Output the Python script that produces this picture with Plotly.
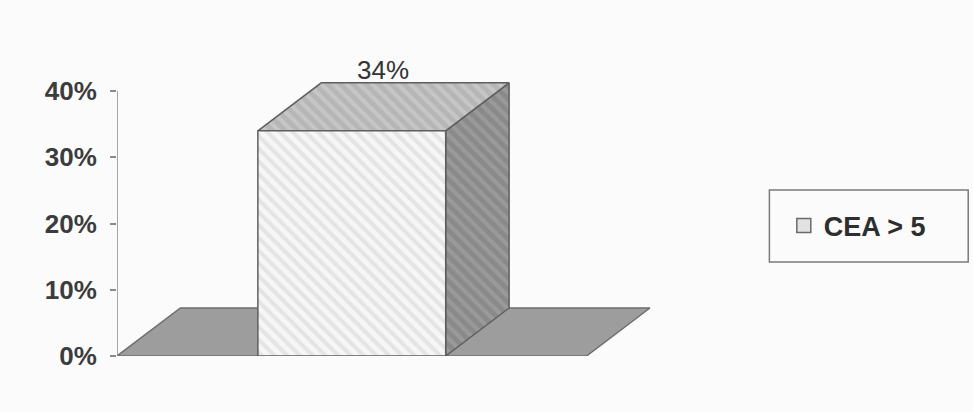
import plotly.graph_objects as go

# ---- data ----
categories = ["CEA > 5"]
values = [0.34]
tick_values = [0, 0.1, 0.2, 0.3, 0.4]
tick_labels = ["0%", "10%", "20%", "30%", "40%"]

# ---- 3D look (style constants) ----
BAR_W = 0.4        # bar width in category units (gap width 150%)
DX = 0.135         # depth offset in x (category units)
DY = 0.0725        # depth offset in y (value units)
EDGE = "#5e5e5e"
FONT = "Liberation Sans, Arial, sans-serif"

fig = go.Figure()

# floor
fx = [-0.5, 0.5, 0.5 + DX, -0.5 + DX, -0.5]
fy = [0, 0, DY, DY, 0]
fig.add_trace(go.Scatter(x=fx, y=fy, fill="toself", mode="lines",
                         fillcolor="#9d9d9d", line=dict(color="#6e6e6e", width=1.5),
                         hoverinfo="skip", showlegend=False))

for i, (cat, v) in enumerate(zip(categories, values)):
    c = i
    l, r = c - BAR_W / 2, c + BAR_W / 2
    # side face
    fig.add_trace(go.Scatter(
        x=[r, r + DX, r + DX, r, r], y=[0, DY, v + DY, v, 0],
        fill="toself", mode="lines", line=dict(color=EDGE, width=1.5),
        fillcolor="#8e8e8e",
        fillpattern=dict(shape="\\", size=9, solidity=0.45, fgcolor="#a9a9a9", bgcolor="#8a8a8a"),
        hoverinfo="skip", showlegend=False))
    # top face
    fig.add_trace(go.Scatter(
        x=[l, r, r + DX, l + DX, l], y=[v, v, v + DY, v + DY, v],
        fill="toself", mode="lines", line=dict(color=EDGE, width=1.5),
        fillcolor="#bcbcbc",
        fillpattern=dict(shape="\\", size=9, solidity=0.45, fgcolor="#d6d6d6", bgcolor="#b6b6b6"),
        hoverinfo="skip", showlegend=False))
    # front face
    fig.add_trace(go.Scatter(
        x=[l, r, r, l, l], y=[0, 0, v, v, 0],
        fill="toself", mode="lines", line=dict(color=EDGE, width=1.5),
        fillcolor="#f3f3f3",
        fillpattern=dict(shape="\\", size=9, solidity=0.45, fgcolor="#d2d2d2", bgcolor="#f6f6f6"),
        hoverinfo="skip", showlegend=False, legendgroup=cat))
    # legend entry
    fig.add_trace(go.Scatter(
        x=[None], y=[None], mode="markers", name=cat, legendgroup=cat,
        marker=dict(symbol="square", size=14, color="#e2e2e2",
                    line=dict(color="#6a6a6a", width=1.5))))
    # value label
    fig.add_annotation(x=c + DX / 2, y=v + DY, text=f"{round(v * 100)}%",
                       showarrow=False, yanchor="bottom", yshift=-4,
                       font=dict(family=FONT, size=26, color="#333333"))

# value axis line (spans tick range)
fig.add_trace(go.Scatter(x=[-0.5, -0.5], y=[tick_values[0], tick_values[-1]], mode="lines",
                         line=dict(color="#8a8a8a", width=1.5), hoverinfo="skip", showlegend=False))

# layout geometry
L, PW = 117, 540.5
B, PH = 56, 298.1
def px(xpix):
    return (xpix - L) / PW
def py(ypix):
    return (412 - B - ypix) / PH

fig.add_shape(type="rect", xref="paper", yref="paper",
              x0=px(770), x1=px(969), y0=py(262), y1=py(190),
              line=dict(color="#7a7a7a", width=1.5), fillcolor="rgba(0,0,0,0)")

fig.update_layout(
    width=973, height=412,
    margin=dict(l=L, r=973 - L - PW, t=412 - B - PH, b=B),
    paper_bgcolor="#fbfbfb", plot_bgcolor="#fbfbfb",
    xaxis=dict(range=[-0.5, 0.65], visible=False, fixedrange=True),
    yaxis=dict(range=[0, 0.45], tickvals=tick_values, ticktext=tick_labels,
               showgrid=False, zeroline=False, showline=False,
               ticks="outside", ticklen=6, tickcolor="#8a8a8a", tickwidth=1.5,
               ticklabelstandoff=8,
               tickfont=dict(family=FONT, size=26, color="#3c3c3c", weight="bold")),
    legend=dict(x=px(858), y=py(226), xanchor="center", yanchor="middle",
                bgcolor="rgba(0,0,0,0)", borderwidth=0,
                font=dict(family=FONT, size=27, color="#2e2e2e", weight="bold")),
    showlegend=True,
)

fig.write_html("out.html")
